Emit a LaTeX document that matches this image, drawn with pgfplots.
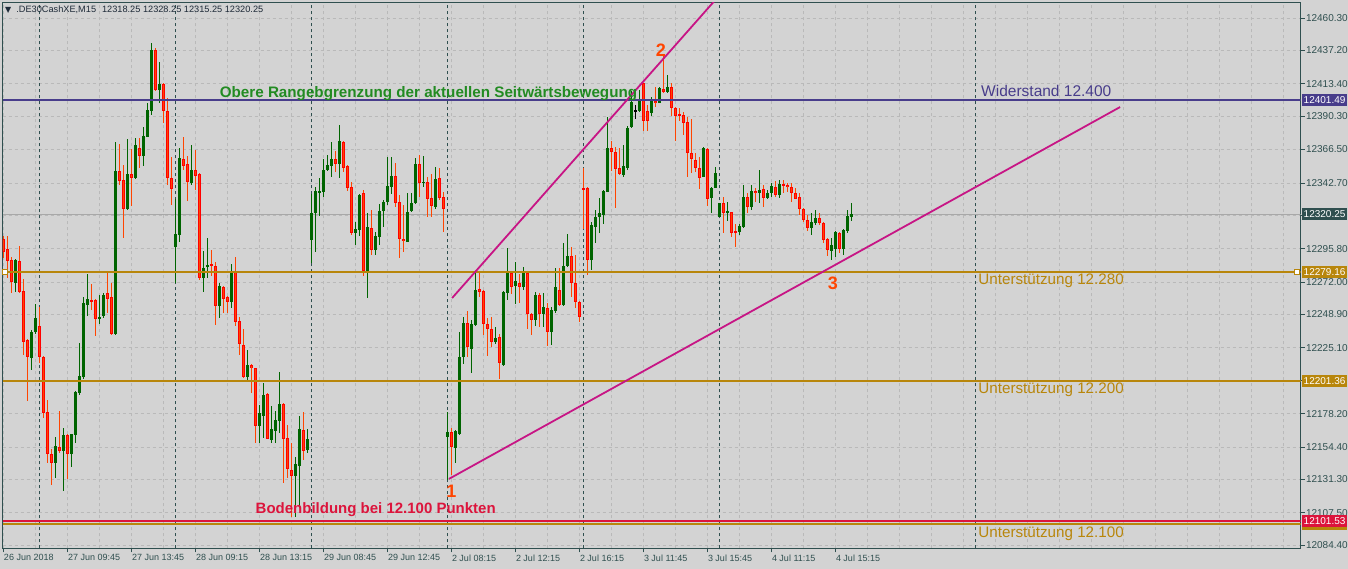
\documentclass[border=0pt]{standalone}
\usepackage{pgfplots}
\usepackage{pgfplotstable}
\pgfplotsset{compat=1.18}
\usepackage{fontspec}
\setmainfont{Liberation Sans}
\newfontfamily\dejavu{DejaVu Sans}
\definecolor{bg}{HTML}{D3D3D3}
\definecolor{frame}{HTML}{2F4F4F}
\definecolor{gridc}{HTML}{B9B9B9}
\definecolor{labc}{HTML}{2F4F4F}
\definecolor{bullc}{HTML}{006400}
\definecolor{bearb}{HTML}{FF0000}
\definecolor{bearf}{HTML}{FF4500}
\definecolor{purp}{HTML}{483D8B}
\definecolor{gold}{HTML}{B8860B}
\definecolor{crim}{HTML}{DC143C}
\definecolor{mag}{HTML}{C71585}
\definecolor{tgreen}{HTML}{228B22}
\definecolor{numc}{HTML}{FF4500}
\definecolor{pricel}{HTML}{A8A8A8}
\definecolor{headc}{HTML}{1E2A38}

\pgfplotstableread{
i o h l c
3 12271.1 12288.2 12265.2 12287.7
7 12218.1 12237.8 12209.3 12236.4
8 12236.6 12256.4 12235.0 12246.4
13 12143.2 12161.8 12132.5 12155.1
15 12151.5 12167.9 12123.3 12163.0
17 12149.6 12164.0 12140.4 12163.7
18 12163.2 12194.3 12157.5 12193.6
19 12193.1 12228.8 12191.5 12205.0
20 12204.3 12261.6 12202.9 12257.1
21 12255.9 12277.8 12247.8 12259.9
24 12245.9 12263.0 12242.1 12247.1
25 12247.8 12264.4 12246.1 12263.0
28 12234.7 12372.1 12234.0 12351.2
31 12323.9 12373.8 12323.4 12349.5
33 12346.0 12374.5 12345.5 12369.7
35 12362.1 12382.3 12354.8 12376.2
36 12375.7 12399.9 12375.2 12394.7
37 12394.0 12442.2 12391.1 12437.5
39 12409.0 12428.9 12399.9 12413.2
43 12297.2 12331.0 12271.6 12306.3
44 12305.8 12367.8 12300.8 12360.7
47 12342.4 12369.7 12341.0 12351.9
50 12275.1 12294.2 12265.2 12281.8
51 12283.5 12303.4 12275.1 12283.9
54 12255.2 12271.1 12246.6 12269.2
57 12258.0 12284.9 12253.7 12279.4
61 12204.5 12223.6 12202.2 12212.9
64 12169.6 12184.3 12157.5 12178.4
65 12176.7 12200.0 12161.0 12191.5
67 12159.4 12183.9 12157.0 12167.2
68 12166.0 12180.3 12157.0 12173.6
69 12173.2 12207.9 12164.1 12185.1
73 12133.7 12147.5 12104.7 12142.0
74 12140.9 12176.5 12111.9 12167.0
76 12152.3 12167.0 12149.9 12159.9
77 12302.0 12334.8 12285.8 12321.0
78 12321.5 12340.0 12293.7 12336.9
79 12335.8 12346.5 12319.1 12336.9
80 12336.5 12359.5 12332.9 12351.9
81 12351.9 12362.6 12351.4 12355.5
82 12354.8 12371.9 12346.7 12359.8
84 12356.4 12384.0 12346.5 12372.6
88 12307.2 12314.8 12298.4 12309.8
89 12309.1 12334.6 12304.9 12334.1
91 12280.1 12321.5 12260.6 12311.3
93 12294.9 12307.7 12291.3 12304.9
94 12304.4 12327.7 12298.4 12322.9
95 12322.9 12330.5 12311.5 12329.3
96 12329.3 12361.4 12327.0 12340.5
97 12340.0 12361.4 12334.8 12347.6
101 12300.8 12335.8 12300.3 12322.0
102 12322.7 12335.8 12322.2 12328.6
103 12328.2 12360.2 12327.7 12356.4
105 12342.9 12361.9 12340.0 12343.4
108 12325.8 12354.3 12323.9 12345.5
111 12161.8 12179.4 12130.9 12165.1
113 12153.9 12166.3 12142.8 12165.8
114 12164.1 12236.6 12163.0 12218.8
115 12218.8 12246.9 12213.6 12243.1
117 12224.3 12245.0 12207.4 12242.1
118 12241.4 12278.2 12240.9 12266.4
123 12229.5 12239.7 12227.6 12232.4
125 12212.9 12265.7 12212.2 12265.2
126 12264.4 12296.3 12259.2 12278.7
128 12269.4 12286.3 12256.1 12272.8
130 12268.7 12283.0 12266.4 12278.2
133 12245.0 12265.2 12240.7 12262.8
135 12249.2 12264.4 12240.2 12254.2
137 12236.6 12254.5 12227.1 12252.1
138 12251.6 12281.8 12250.2 12268.5
140 12255.7 12300.0 12255.2 12283.5
141 12283.5 12306.0 12283.0 12290.8
147 12287.7 12315.1 12280.6 12312.7
148 12311.5 12323.4 12300.1 12318.6
149 12318.6 12331.7 12306.8 12321.0
150 12319.8 12337.4 12313.2 12336.9
151 12336.5 12389.5 12336.0 12367.8
155 12348.4 12369.7 12347.2 12354.8
156 12353.1 12383.3 12351.9 12382.3
157 12382.3 12408.2 12381.8 12400.6
159 12394.2 12409.0 12393.5 12401.8
162 12392.8 12404.2 12390.4 12401.8
164 12399.9 12411.1 12399.5 12410.6
166 12407.8 12419.7 12406.6 12411.3
175 12347.2 12368.6 12346.7 12367.8
177 12331.7 12340.0 12321.0 12339.3
178 12339.3 12354.3 12338.8 12349.5
179 12318.6 12328.6 12318.1 12328.2
181 12321.7 12329.1 12315.6 12322.7
184 12308.0 12313.2 12305.6 12312.0
185 12311.5 12341.2 12310.3 12332.9
187 12325.8 12341.2 12323.4 12336.9
189 12335.3 12351.9 12328.2 12337.7
191 12331.7 12337.7 12331.0 12335.8
192 12335.8 12342.9 12332.9 12340.5
194 12333.9 12344.8 12332.2 12341.9
202 12310.8 12321.0 12305.6 12315.1
203 12314.4 12323.4 12312.7 12317.9
207 12294.2 12303.2 12287.7 12298.4
208 12295.4 12308.5 12290.1 12308.0
210 12295.6 12309.6 12291.3 12309.1
211 12308.7 12323.4 12307.2 12319.1
212 12318.25 12328.25 12315.25 12320.25
}\bull

\pgfplotstableread{
i o h l c
0 12302.5 12304.9 12288.9 12293.7
1 12295.6 12304.9 12275.1 12287.3
2 12287.7 12289.6 12264.0 12272.3
4 12287.0 12297.7 12264.0 12264.9
5 12265.6 12274.0 12220.0 12229.5
6 12230.7 12231.2 12187.4 12218.8
9 12240.7 12254.0 12214.1 12218.8
10 12218.6 12219.1 12175.3 12178.9
11 12179.4 12187.9 12142.7 12149.2
12 12149.2 12153.0 12127.3 12143.2
14 12154.4 12180.1 12150.4 12151.5
16 12163.0 12163.5 12131.8 12149.6
22 12259.2 12270.6 12252.1 12258.5
23 12259.2 12259.7 12233.5 12245.9
26 12264.4 12279.4 12249.9 12260.2
27 12261.4 12271.3 12234.5 12234.7
29 12351.2 12370.2 12341.2 12344.3
30 12344.8 12355.5 12303.7 12323.9
32 12348.8 12366.7 12326.2 12346.5
34 12367.4 12374.5 12353.6 12362.1
38 12437.5 12438.7 12408.5 12409.0
40 12413.2 12413.7 12385.7 12394.0
41 12394.0 12403.0 12341.2 12346.4
42 12346.4 12361.4 12327.0 12338.6
45 12359.8 12375.4 12351.9 12355.0
46 12356.2 12361.9 12330.0 12343.6
48 12351.9 12366.2 12337.7 12347.9
49 12349.1 12349.6 12273.5 12275.1
52 12284.6 12294.9 12276.6 12283.9
53 12283.9 12286.6 12241.4 12255.2
55 12268.5 12269.0 12250.2 12260.2
56 12261.4 12261.9 12250.2 12258.0
58 12279.4 12289.6 12240.9 12243.8
59 12244.2 12247.3 12220.2 12227.6
60 12227.1 12238.8 12203.4 12204.5
62 12212.9 12213.4 12193.1 12210.5
63 12210.5 12211.0 12157.0 12169.6
66 12192.2 12192.7 12159.8 12160.3
70 12185.1 12186.0 12128.5 12159.9
71 12160.8 12170.0 12132.0 12138.5
72 12138.0 12157.5 12104.7 12133.7
75 12167.0 12179.6 12145.1 12151.5
83 12359.8 12365.7 12350.7 12356.4
85 12371.9 12372.4 12350.7 12353.6
86 12354.8 12355.3 12336.9 12338.8
87 12339.8 12343.4 12305.6 12307.2
90 12335.8 12337.7 12276.3 12280.1
92 12310.3 12323.4 12291.3 12294.9
98 12347.6 12357.1 12325.8 12328.6
99 12329.3 12334.1 12289.4 12302.5
100 12303.0 12327.0 12293.7 12301.5
104 12356.4 12362.6 12332.4 12342.9
106 12343.4 12347.2 12318.6 12331.0
107 12332.0 12349.1 12318.6 12326.3
109 12346.2 12353.1 12330.5 12332.0
110 12332.7 12336.5 12307.9 12323.9
112 12165.1 12167.7 12134.4 12154.6
116 12243.1 12251.4 12218.8 12225.5
119 12267.1 12278.2 12261.1 12265.2
120 12265.6 12266.1 12234.3 12241.9
121 12242.1 12246.6 12219.3 12239.0
122 12238.5 12246.9 12225.9 12229.5
124 12232.8 12235.0 12203.1 12214.1
127 12278.7 12279.2 12263.3 12268.7
129 12271.3 12278.0 12256.8 12268.7
131 12278.2 12278.7 12238.3 12249.0
132 12249.5 12250.0 12234.3 12245.0
134 12262.8 12264.0 12240.2 12249.2
136 12253.3 12256.8 12226.4 12236.6
139 12266.4 12281.8 12254.9 12255.7
142 12290.8 12297.2 12261.6 12271.1
143 12271.1 12291.3 12253.8 12257.6
144 12258.0 12258.5 12243.8 12247.3
145 12338.8 12353.6 12310.0 12337.9
146 12339.3 12339.8 12277.0 12287.7
152 12367.8 12372.8 12351.4 12365.0
153 12365.0 12368.3 12325.1 12352.4
154 12353.6 12367.8 12348.6 12349.1
160 12413.7 12414.2 12380.0 12387.1
161 12394.2 12398.3 12380.0 12387.1
163 12401.1 12411.3 12397.1 12399.5
165 12409.4 12433.2 12406.6 12407.8
167 12410.9 12414.2 12390.4 12396.4
168 12396.4 12397.1 12372.8 12390.4
169 12391.8 12396.4 12386.6 12390.4
170 12391.1 12393.5 12376.9 12385.7
171 12386.1 12389.5 12347.2 12363.8
172 12363.8 12388.3 12349.5 12359.5
173 12359.5 12364.3 12350.7 12353.6
174 12353.6 12360.9 12338.4 12346.4
176 12366.7 12367.4 12326.5 12331.0
180 12328.2 12332.4 12306.8 12321.0
182 12321.7 12322.2 12303.9 12307.2
183 12308.4 12313.2 12297.3 12307.2
186 12332.9 12335.3 12321.0 12325.8
188 12336.9 12338.9 12329.3 12335.3
190 12338.1 12341.2 12325.8 12331.7
193 12340.0 12344.1 12332.9 12333.9
195 12341.9 12344.8 12335.8 12340.8
196 12341.5 12342.9 12336.0 12339.6
197 12340.0 12342.4 12329.3 12335.8
198 12335.8 12338.9 12331.0 12331.5
199 12332.7 12335.8 12319.8 12323.9
200 12323.9 12324.6 12315.1 12316.3
201 12316.3 12319.8 12308.4 12311.0
204 12317.9 12321.0 12312.7 12313.9
205 12314.4 12314.9 12300.1 12302.0
206 12302.5 12303.2 12290.8 12294.9
209 12307.2 12307.7 12292.5 12295.6
}\bear

\pgfplotstableread{
i o h l c
158 12394.0 12398.3 12388.0 12394.2
}\doji

\pgfplotsset{
  wickst/.style={draw=none, no markers, forget plot,
    error bars/.cd, y dir=both, y explicit, error mark=none,
    error bar style={line width=1pt, draw=#1}},
  bodyst/.style 2 args={draw=none, no markers, forget plot,
    error bars/.cd, y dir=both, y explicit, error mark=none,
    error bar style={line width=#2, draw=#1}},
  hline/.style={forget plot, line width=2pt, draw=#1, mark=none},
}
\newcommand{\wick}[2]{\addplot[wickst=#1] table[x=i, y expr={(\thisrow{o}+\thisrow{c})/2}, y error plus expr={\thisrow{h}-(\thisrow{o}+\thisrow{c})/2}, y error minus expr={(\thisrow{o}+\thisrow{c})/2-\thisrow{l}}] {#2};}

\begin{document}
\begin{tikzpicture}
\fill[bg] (0,0) rectangle (1348pt,569pt);
\begin{axis}[
  at={(2.5pt,20.5pt)}, anchor=south west,
  scale only axis, width=1298pt, height=546pt,
  xmin=-0.2, xmax=324.3, ymin=12082.0, ymax=12471.35,
  axis background/.style={fill=bg},
  axis line style={draw=frame, line width=1pt},
  clip mode=individual,
  xtick={0,16,32,48,64,80,96,112,128,144,160,176,192,208},
  xticklabels={26 Jun 2018, 27 Jun 09:45, 27 Jun 13:45, 28 Jun 09:15, 28 Jun 13:15, 29 Jun 08:45, 29 Jun 12:45, 2 Jul 08:15, 2 Jul 12:15, 2 Jul 16:15, 3 Jul 11:45, 3 Jul 15:45, 4 Jul 11:15, 4 Jul 15:15},
  minor xtick={8,24,40,56,72,88,104,120,136,152,168,184,200,216,224,232,240,248,256,264,272,280,288,296,304,312,320},
  ytick={12084.4,12107.5,12131.3,12154.4,12178.2,12201.7,12225.1,12248.9,12272.0,12295.8,12319.2,12342.7,12366.5,12390.3,12413.4,12437.2,12460.3},
  yticklabels={12084.40,12107.50,12131.30,12154.40,12178.20,{},12225.10,12248.90,12272.00,12295.80,{},12342.70,12366.50,12390.30,12413.40,12437.20,12460.30},
  xmajorgrids, xminorgrids, ymajorgrids,
  major grid style={draw=gridc, dash pattern=on 3pt off 3pt, line width=0.8pt},
  minor grid style={draw=gridc, dash pattern=on 3pt off 3pt, line width=0.8pt},
  tick align=outside,
  xtick pos=bottom, ytick pos=right, yticklabel pos=right,
  major tick length=4pt, minor tick length=0pt,
  tick style={draw=frame, line width=0.8pt},
  xticklabel style={anchor=north west, font=\fontsize{9}{10}\selectfont, text=labc, xshift=-1.5pt, inner sep=2pt},
  yticklabel style={anchor=west, font=\fontsize{10}{11}\selectfont, text=labc, xshift=-2pt},
]
% current price line
\addplot[forget plot, line width=1pt, draw=pricel] coordinates {(-0.2,12320.25) (324.3,12320.25)};
% period separators
\addplot[forget plot, draw=frame, line width=1pt, dash pattern=on 3pt off 3pt] coordinates {(9,12082) (9,12471.35)};
\addplot[forget plot, draw=frame, line width=1pt, dash pattern=on 3pt off 3pt] coordinates {(43,12082) (43,12471.35)};
\addplot[forget plot, draw=frame, line width=1pt, dash pattern=on 3pt off 3pt] coordinates {(77,12082) (77,12471.35)};
\addplot[forget plot, draw=frame, line width=1pt, dash pattern=on 3pt off 3pt] coordinates {(111,12082) (111,12471.35)};
\addplot[forget plot, draw=frame, line width=1pt, dash pattern=on 3pt off 3pt] coordinates {(145,12082) (145,12471.35)};
\addplot[forget plot, draw=frame, line width=1pt, dash pattern=on 3pt off 3pt] coordinates {(179,12082) (179,12471.35)};
\addplot[forget plot, draw=frame, line width=1pt, dash pattern=on 3pt off 3pt] coordinates {(243,12082) (243,12471.35)};
% candles: wicks
\wick{bullc}{\bull}
\wick{bearf}{\bear}
\wick{black}{\doji}
% bodies
\addplot[bodyst={bullc}{3pt}] table[x=i, y expr={(\thisrow{o}+\thisrow{c})/2}, y error expr={max(abs(\thisrow{c}-\thisrow{o})/2,0.36)}] {\bull};
\addplot[bodyst={bearb}{3pt}] table[x=i, y expr={(\thisrow{o}+\thisrow{c})/2}, y error expr={max(abs(\thisrow{c}-\thisrow{o})/2,0.36)}] {\bear};
\addplot[bodyst={bearf}{1pt}] table[x=i, y expr={(\thisrow{o}+\thisrow{c})/2}, y error expr={max(abs(\thisrow{c}-\thisrow{o})/2-0.71,0)}] {\bear};
\addplot[bodyst={black}{3pt}] table[x=i, y expr={(\thisrow{o}+\thisrow{c})/2}, y error expr={max(abs(\thisrow{c}-\thisrow{o})/2,0.36)}] {\doji};
% horizontal levels
\addplot[hline=purp] coordinates {(-0.2,12401.49) (324.3,12401.49)};
\addplot[hline=gold] coordinates {(-0.2,12279.16) (324.3,12279.16)};
\addplot[hline=gold] coordinates {(-0.2,12201.36) (324.3,12201.36)};
\addplot[hline=gold] coordinates {(-0.2,12099.3) (324.3,12099.3)};
\addplot[hline=crim] coordinates {(-0.2,12101.53) (324.3,12101.53)};
\addplot[forget plot, only marks, mark=square*, mark size=2.5pt, mark options={fill=white, draw=gold, line width=1pt}] coordinates {(0.4,12279.16) (323.4,12279.16)};
% trend lines
\addplot[forget plot, draw=mag, line width=1.8pt] coordinates {(112.2,12260.6) (180,12479.6)};
\addplot[forget plot, draw=mag, line width=1.8pt] coordinates {(111.4,12131.6) (279.2,12396.8)};
% texts
\node[anchor=west, text=purp, font=\fontsize{15.5}{16}\selectfont] at (axis cs:243.6,12408.2) {Widerstand 12.400};
\node[anchor=west, text=gold, font=\fontsize{15.2}{16}\selectfont] at (axis cs:242.9,12272.8) {Unterstützung 12.280};
\node[anchor=west, text=gold, font=\fontsize{15.2}{16}\selectfont] at (axis cs:242.9,12195.0) {Unterstützung 12.200};
\node[anchor=west, text=gold, font=\fontsize{15.2}{16}\selectfont] at (axis cs:242.9,12092.5) {Unterstützung 12.100};
\node[text=tgreen, font=\bfseries\fontsize{15.2}{16}\selectfont] at (axis cs:106.3,12406.6) {Obere Rangebgrenzung der aktuellen Seitwärtsbewegung};
\node[text=crim, font=\bfseries\fontsize{15}{16}\selectfont] at (axis cs:93.1,12109.5) {Bodenbildung bei 12.100 Punkten};
\node[text=numc, font=\bfseries\fontsize{18}{18}\selectfont] at (axis cs:112.0,12123.0) {1};
\node[text=numc, font=\bfseries\fontsize{18}{18}\selectfont] at (axis cs:164.4,12437.5) {2};
\node[text=numc, font=\bfseries\fontsize{18}{18}\selectfont] at (axis cs:207.4,12271.3) {3};
% price boxes on right axis
\tikzset{pbox/.style={anchor=west, xshift=1pt, inner xsep=2pt, inner ysep=0pt, minimum height=12pt, text=white, font=\fontsize{10}{10}\selectfont}}
\node[pbox, fill=purp] at ({rel axis cs:1,0} |- {axis cs:0,12401.49}) {12401.49};
\node[pbox, fill=frame] at ({rel axis cs:1,0} |- {axis cs:0,12320.25}) {12320.25};
\node[pbox, fill=gold] at ({rel axis cs:1,0} |- {axis cs:0,12279.16}) {12279.16};
\node[pbox, fill=gold] at ({rel axis cs:1,0} |- {axis cs:0,12201.36}) {12201.36};
\node[pbox, fill=gold] at ({rel axis cs:1,0} |- {axis cs:0,12099.3}) {12099.30};
\node[pbox, fill=crim] at ({rel axis cs:1,0} |- {axis cs:0,12101.53}) {12101.53};
\end{axis}
\node[anchor=west, text=headc, font=\fontsize{9.2}{10}\selectfont, inner sep=0pt] at (5pt,559pt) {{\dejavu\fontsize{8}{9}\selectfont ▼}\hspace{5pt}.DE30CashXE,M15\hspace{6pt}12318.25 12328.25 12315.25 12320.25};
\pgfresetboundingbox
\useasboundingbox (0,0) rectangle (1348pt,569pt);
\end{tikzpicture}
\end{document}
